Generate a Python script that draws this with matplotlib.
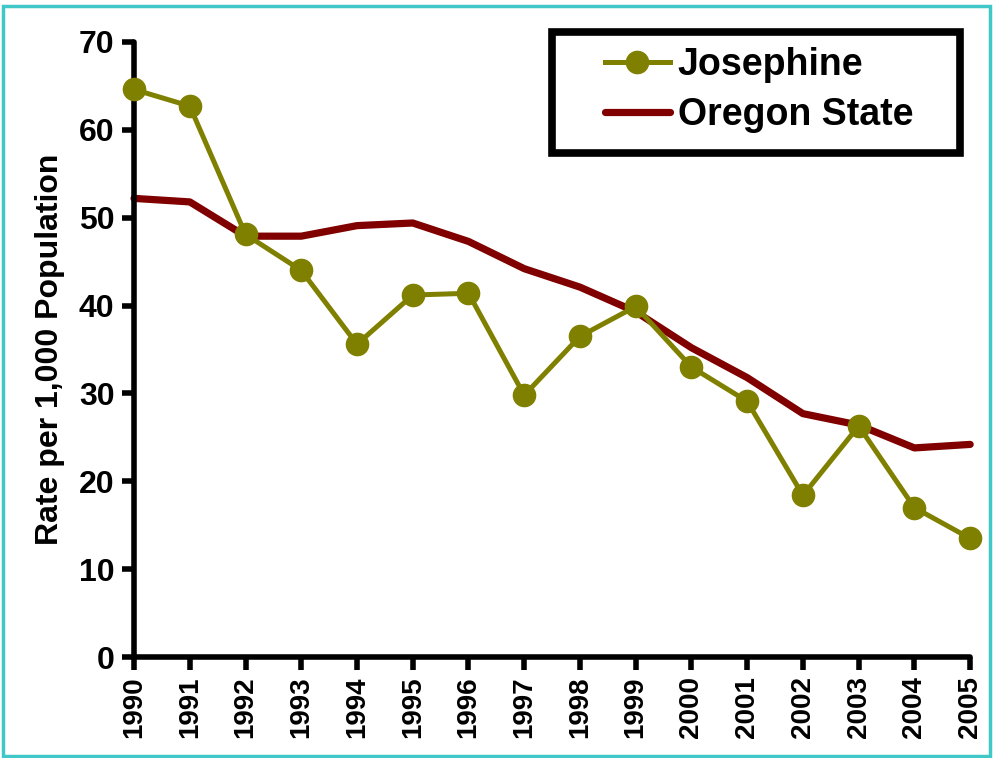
import matplotlib.pyplot as plt
from matplotlib.patches import Rectangle

years = [1990, 1991, 1992, 1993, 1994, 1995, 1996, 1997,
         1998, 1999, 2000, 2001, 2002, 2003, 2004, 2005]
josephine = [64.6, 62.7, 48.1, 44.0, 35.6, 41.2, 41.4, 29.8,
             36.5, 39.9, 33.0, 29.1, 18.4, 26.3, 17.0, 13.5]
oregon = [52.2, 51.8, 47.9, 47.9, 49.1, 49.4, 47.3, 44.2,
          42.1, 39.3, 35.2, 31.8, 27.7, 26.4, 23.8, 24.2]

plt.rcParams['font.family'] = ['Liberation Sans', 'DejaVu Sans']
plt.rcParams['font.weight'] = 'bold'

fig = plt.figure(figsize=(9.93, 7.58), dpi=100)
ax = fig.add_axes([0.135, 0.1332, 0.842, 0.8114])

ax.plot(years, oregon, '-', color='#800000', lw=5.2, label='Oregon State',
        solid_capstyle='round', zorder=2, clip_on=False)
ax.plot(years, josephine, '-o', color='#808000', lw=3.6, ms=16,
        label='Josephine', zorder=3, clip_on=False)

ax.set_xlim(1990, 2005)
ax.set_ylim(0, 70)
ax.set_xticks(years)
ax.set_xticklabels([str(y) for y in years], rotation=90, fontsize=20, fontweight='bold')
ax.set_yticks(range(0, 71, 10))
ax.tick_params(axis='y', labelsize=23, length=9, width=4, direction='out', pad=5)
ax.tick_params(axis='x', length=9, width=4, direction='out', pad=5)
for lab in ax.get_yticklabels():
    lab.set_fontweight('bold')

for side in ['top', 'right']:
    ax.spines[side].set_visible(False)
for side in ['left', 'bottom']:
    ax.spines[side].set_linewidth(4)
    ax.spines[side].set_capstyle('round')

ax.set_ylabel('Rate per 1,000 Population', fontsize=23, fontweight='bold', labelpad=10)

handles, labels = ax.get_legend_handles_labels()
leg = fig.legend(handles[::-1], labels[::-1], loc='center left',
                 bbox_to_anchor=(0.590, 0.881), fontsize=27, frameon=False,
                 handlelength=1.75, handletextpad=0.2, borderpad=0,
                 labelspacing=0.36)
for t in leg.get_texts():
    t.set_fontweight('bold')

fig.patches.append(Rectangle((0.556, 0.7985), 0.411, 0.159, transform=fig.transFigure,
                             fill=False, edgecolor='black', lw=5.5, joinstyle='miter'))

fig.patches.append(Rectangle((0.003, 0.002), 0.994, 0.99, transform=fig.transFigure,
                             fill=False, edgecolor='#40c8c8', lw=2.5))

fig.savefig('out.png', dpi=100)
